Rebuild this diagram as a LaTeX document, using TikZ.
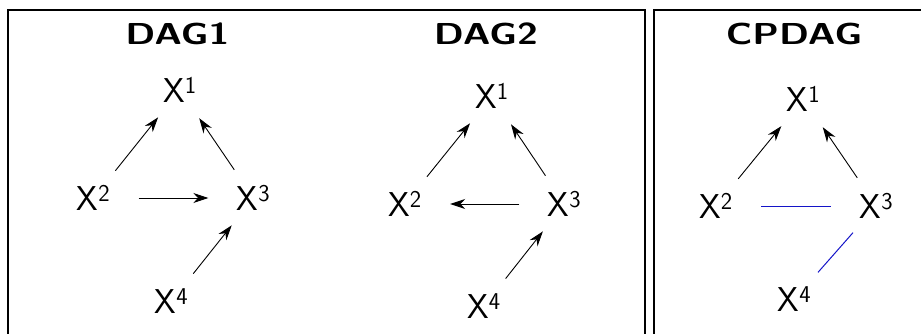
\documentclass[tikz,border=0pt]{standalone}
\usepackage{fontspec}
\usepackage{graphicx}
\usetikzlibrary{shapes.geometric,arrows.meta}
\definecolor{undblue}{RGB}{20,20,200}
\newcommand{\wtxt}[1]{\scalebox{1.25}[1]{#1}}
\begin{document}
\begin{tikzpicture}[x=1pt,y=-1pt,
    var/.style={ellipse,inner sep=0pt,minimum width=90pt,minimum height=62pt,font=\sffamily\fontsize{34.5}{36}\selectfont},
    title/.style={font=\sffamily\bfseries\fontsize{30.3}{32}\selectfont},
    arr/.style={-{Stealth[length=15pt,width=10pt]},line width=0.9pt},
    und/.style={color=undblue,line width=1pt}]
    \useasboundingbox (0,0) rectangle (921,334);
    \clip (0,0) rectangle (921,334);
    \draw[line width=1.2pt] (8,10) rectangle (645,345);
    \draw[line width=1.2pt] (654,10) rectangle (935,345);
    \node[title] (t1) at (177.5,33.7) {\wtxt{DAG1}};
    \node[var] (a1) at (180,90) {X\textsuperscript{1}};
    \node[var] (a2) at (93.5,198) {X\textsuperscript{2}};
    \node[var] (a3) at (253.5,198) {X\textsuperscript{3}};
    \node[var] (a4) at (171.5,301) {X\textsuperscript{4}};
    \draw[arr] (a2) -- (a1);
    \draw[arr] (a3) -- (a1);
    \draw[arr] (a2) -- (a3);
    \draw[arr] (a4) -- (a3);
    \node[title] (t2) at (486,33.7) {\wtxt{DAG2}};
    \node[var] (b1) at (492,96) {X\textsuperscript{1}};
    \node[var] (b2) at (405,204) {X\textsuperscript{2}};
    \node[var] (b3) at (564.5,204) {X\textsuperscript{3}};
    \node[var] (b4) at (484,306) {X\textsuperscript{4}};
    \draw[arr] (b2) -- (b1);
    \draw[arr] (b3) -- (b1);
    \draw[arr] (b3) -- (b2);
    \draw[arr] (b4) -- (b3);
    \node[title] (t3) at (794,33.7) {\wtxt{CPDAG}};
    \node[var] (c1) at (803.5,99) {X\textsuperscript{1}};
    \node[var] (c2) at (716,206) {X\textsuperscript{2}};
    \node[var] (c3) at (876.5,206) {X\textsuperscript{3}};
    \node[var] (c4) at (794.5,299) {X\textsuperscript{4}};
    \draw[arr] (c2) -- (c1);
    \draw[arr] (c3) -- (c1);
    \draw[und] (c2) -- (c3);
    \draw[und] (c3) -- (c4);
\end{tikzpicture}
\end{document}
